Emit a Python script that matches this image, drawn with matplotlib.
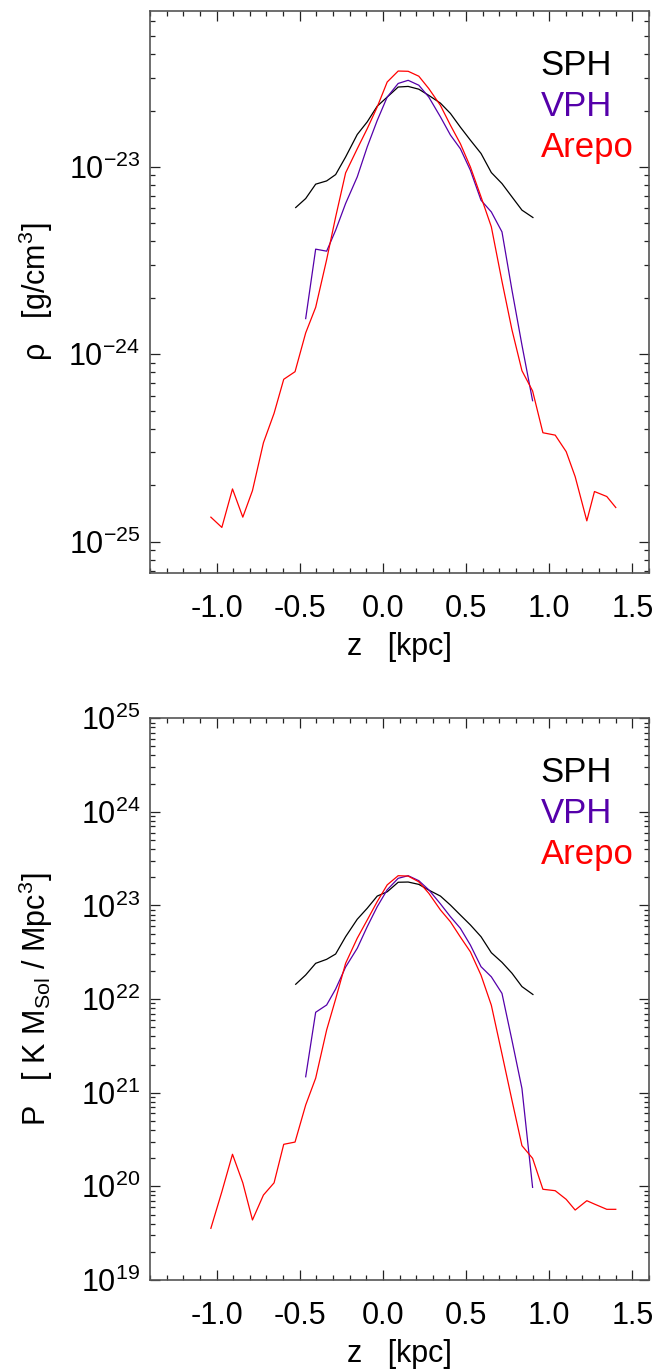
"""
Density and pressure profiles along z for SPH, VPH and Arepo
"""

import matplotlib
matplotlib.use('Agg')
import matplotlib.pyplot as plt
from matplotlib.ticker import (FixedLocator, LogLocator, MultipleLocator,
                               NullFormatter)

plt.rcParams['font.family'] = ['Liberation Sans', 'DejaVu Sans']
plt.rcParams['mathtext.fontset'] = 'custom'
plt.rcParams['mathtext.rm'] = 'Liberation Sans'
plt.rcParams['mathtext.it'] = 'Liberation Sans'
plt.rcParams['mathtext.default'] = 'regular'
plt.rcParams['axes.unicode_minus'] = False

# z positions [kpc]
z_sph = [-0.524, -0.464, -0.404, -0.338, -0.284, -0.224, -0.154, -0.094,
         -0.034, 0.026, 0.092, 0.152, 0.216, 0.276, 0.346, 0.406, 0.466,
         0.526, 0.590, 0.652, 0.716, 0.776, 0.836, 0.902]
z_vph = [-0.464, -0.404, -0.338, -0.284, -0.224, -0.154, -0.094, -0.034,
         0.026, 0.092, 0.152, 0.216, 0.276, 0.346, 0.406, 0.466, 0.526,
         0.590, 0.652, 0.716, 0.776, 0.836, 0.900]
z_arepo = [-1.034, -0.968, -0.904, -0.842, -0.784, -0.718, -0.654, -0.596,
           -0.528, -0.464, -0.404, -0.338, -0.284, -0.224, -0.154, -0.094,
           -0.034, 0.026, 0.092, 0.152, 0.216, 0.276, 0.346, 0.406, 0.466,
           0.526, 0.590, 0.652, 0.716, 0.776, 0.836, 0.900, 0.962, 1.036,
           1.102, 1.156, 1.226, 1.272, 1.346, 1.400]

# density [g/cm^3]
rho_sph = [6.07e-24, 6.78e-24, 8.09e-24, 8.42e-24, 9.1e-24, 1.13e-23,
           1.49e-23, 1.74e-23, 2.11e-23, 2.36e-23, 2.67e-23, 2.69e-23,
           2.6e-23, 2.41e-23, 2.19e-23, 1.93e-23, 1.63e-23, 1.39e-23,
           1.18e-23, 9.33e-24, 8.15e-24, 6.92e-24, 5.88e-24, 5.37e-24]
rho_vph = [1.55e-24, 3.64e-24, 3.55e-24, 4.59e-24, 6.38e-24, 8.85e-24,
           1.28e-23, 1.77e-23, 2.36e-23, 2.79e-23, 2.9e-23, 2.73e-23,
           2.36e-23, 1.85e-23, 1.48e-23, 1.25e-23, 9.6e-24, 6.64e-24,
           5.75e-24, 4.5e-24, 2.2e-24, 1.12e-24, 5.65e-25]
rho_arepo = [1.35e-25, 1.19e-25, 1.91e-25, 1.35e-25, 1.87e-25, 3.37e-25,
             4.84e-25, 7.35e-25, 8.07e-25, 1.30e-24, 1.78e-24, 3.2e-24,
             5.4e-24, 9.29e-24, 1.25e-23, 1.6e-23, 2.09e-23, 2.84e-23,
             3.25e-23, 3.24e-23, 3.05e-23, 2.62e-23, 2.13e-23, 1.67e-23,
             1.33e-23, 1.0e-23, 6.92e-24, 4.79e-24, 2.45e-24, 1.35e-24,
             8.17e-25, 6.37e-25, 3.81e-25, 3.7e-25, 3.02e-25, 2.22e-25,
             1.29e-25, 1.85e-25, 1.74e-25, 1.52e-25]

# pressure [K Msol / Mpc^3]
p_sph = [1.44e22, 1.81e22, 2.41e22, 2.66e22, 3.03e22, 4.64e22, 7.13e22,
         9.34e22, 1.26e23, 1.4e23, 1.77e23, 1.78e23, 1.68e23, 1.46e23,
         1.26e23, 1.01e23, 7.9e22, 6.2e22, 4.64e22, 3.13e22, 2.47e22,
         1.89e22, 1.36e22, 1.12e22]
p_vph = [1.48e21, 7.23e21, 8.65e21, 1.28e22, 2.2e22, 3.49e22, 5.94e22,
         9.7e22, 1.47e23, 1.95e23, 2.08e23, 1.84e23, 1.47e23, 1.04e23,
         7.59e22, 5.7e22, 3.78e22, 2.22e22, 1.73e22, 1.15e22, 3.63e21,
         1.11e21, 9.75e19]
p_arepo = [3.56e19, 8.75e19, 2.2e20, 1.09e20, 4.37e19, 8.07e19, 1.09e20,
           2.81e20, 2.97e20, 7.39e20, 1.43e21, 4.68e21, 1.0e22, 2.41e22,
           4.47e22, 7.0e22, 1.1e23, 1.66e23, 2.08e23, 2.06e23, 1.79e23,
           1.35e23, 8.96e22, 6.7e22, 4.6e22, 3.2e22, 1.8e22, 8.6e21,
           2.59e21, 8.3e20, 2.72e20, 1.99e20, 9.3e19, 8.98e19, 7.26e19,
           5.58e19, 7.02e19, 6.46e19, 5.68e19, 5.68e19]

rho_decades = [-25, -24, -23]
p_decades = [19, 20, 21, 22, 23, 24, 25]

names = ['SPH', 'VPH', 'Arepo']
colors = ['black', '#5500aa', '#ff0000']


def panel(ax, series, ylim, decades, ylabel):
    for (z, v), c in zip(series, colors):
        ax.plot(z, v, color=c, lw=0.9)
    ax.set_yscale('log')
    ax.set_xlim(-1.4, 1.6)
    ax.set_ylim(*ylim)
    ax.xaxis.set_major_locator(MultipleLocator(0.5))
    ax.xaxis.set_minor_locator(MultipleLocator(0.1))
    ax.yaxis.set_major_locator(FixedLocator([10.0 ** d for d in decades]))
    ax.set_yticklabels(['$10^{%d}$' % d for d in decades])
    ax.yaxis.set_minor_locator(LogLocator(base=10, subs=range(2, 10),
                                          numticks=20))
    ax.yaxis.set_minor_formatter(NullFormatter())
    ax.tick_params(which='both', direction='in', top=True, right=True,
                   color='#222222', width=0.9, labelsize=22)
    ax.tick_params(which='major', length=7.5)
    ax.tick_params(which='minor', length=3.6)
    ax.tick_params(axis='x', pad=15)
    ax.tick_params(axis='y', pad=7)
    for s in ax.spines.values():
        s.set_color('#555555')
        s.set_linewidth(1.2)
    ax.set_xlabel('z   [kpc]', fontsize=22)
    ax.xaxis.set_label_coords(0.5, -0.105)
    ax.set_ylabel(ylabel, fontsize=22)
    ax.yaxis.set_label_coords(-0.19, 0.5)
    for i, (n, c) in enumerate(zip(names, colors)):
        ax.text(0.783, 0.886 - 0.073 * i, n, color=c, fontsize=25,
                transform=ax.transAxes, va='baseline', ha='left')


fig = plt.figure(figsize=(6.61, 13.72), dpi=100)
ax1 = fig.add_axes([0.2269, 0.5824, 0.755, 0.4096])
ax2 = fig.add_axes([0.2269, 0.0671, 0.755, 0.4094])

panel(ax1, [(z_sph, rho_sph), (z_vph, rho_vph), (z_arepo, rho_arepo)],
      (6.8e-26, 6.8e-23), rho_decades, 'ρ   [g/cm$^3$]')
panel(ax2, [(z_sph, p_sph), (z_vph, p_vph), (z_arepo, p_arepo)],
      (1e19, 1e25), p_decades, 'P   [ K M$_{Sol}$ / Mpc$^3$]')

fig.savefig('out.png', dpi=100)
